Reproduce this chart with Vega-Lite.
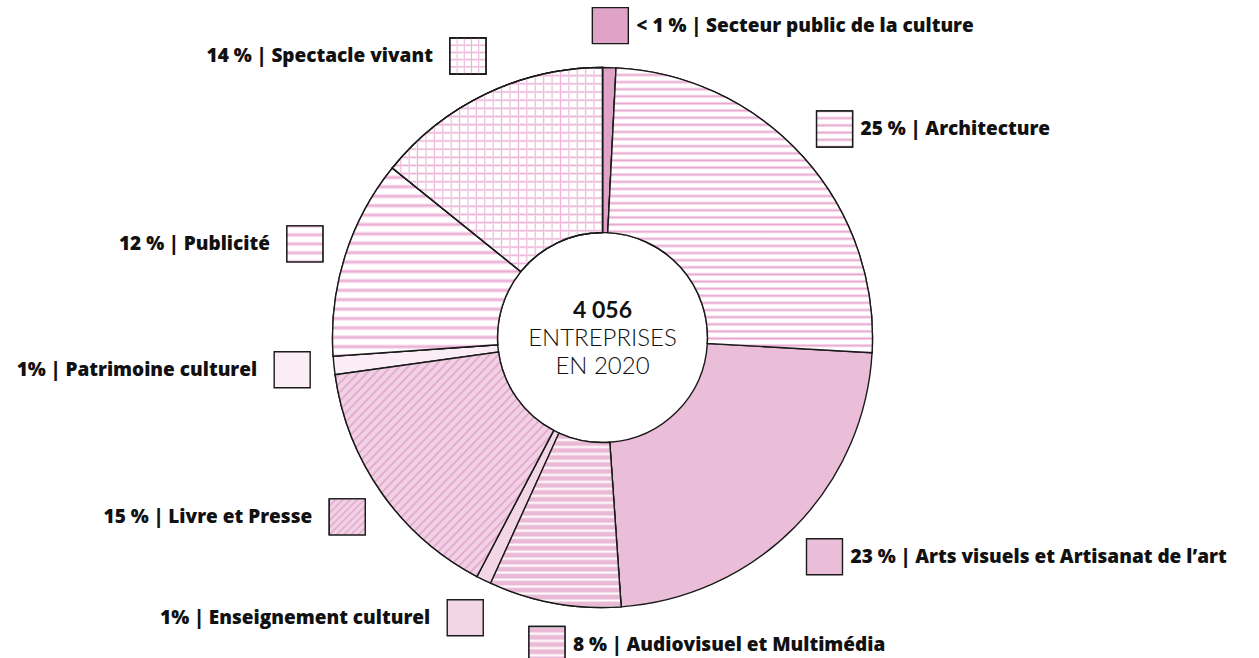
{
  "$schema": "https://vega.github.io/schema/vega-lite/v6.json",
  "autosize": "none",
  "width": 1205,
  "height": 640,
  "padding": {"left": 0, "top": 17.5, "right": 54, "bottom": 0.5},
  "background": "white",
  "config": {"view": {"stroke": null}},
  "data": {
    "values": [
      {"ord": 1, "secteur": "Secteur public de la culture", "value": 0.8, "label": "< 1 % | Secteur public de la culture"},
      {"ord": 2, "secteur": "Architecture", "value": 25.1, "label": "25 % | Architecture"},
      {"ord": 3, "secteur": "Arts visuels et Artisanat de l’art", "value": 23.0, "label": "23 % | Arts visuels et Artisanat de l’art"},
      {"ord": 4, "secteur": "Audiovisuel et Multimédia", "value": 7.9, "label": "8 % | Audiovisuel et Multimédia"},
      {"ord": 5, "secteur": "Enseignement culturel", "value": 0.9, "label": "1% | Enseignement culturel"},
      {"ord": 6, "secteur": "Livre et Presse", "value": 15.1, "label": "15 % | Livre et Presse"},
      {"ord": 7, "secteur": "Patrimoine culturel", "value": 1.1, "label": "1% | Patrimoine culturel"},
      {"ord": 8, "secteur": "Publicité", "value": 11.9, "label": "12 % | Publicité"},
      {"ord": 9, "secteur": "Spectacle vivant", "value": 14.2, "label": "14 % | Spectacle vivant"}
    ]
  },
  "transform": [
    {"stack": "value", "groupby": [], "sort": [{"field": "ord", "order": "ascending"}], "as": ["v0", "v1"]},
    {"calculate": "(datum.v0 + datum.v1) / 100 * PI", "as": "a"},
    {"calculate": "312 * sin(datum.a)", "as": "sx"},
    {"calculate": "312 * cos(datum.a)", "as": "sy"}
  ],
  "layer": [
    {
      "mark": {"type": "arc", "outerRadius": 270, "innerRadius": 105, "stroke": "#1a1a1a", "strokeWidth": 1.4},
      "encoding": {
        "theta": {"field": "v0", "type": "quantitative", "scale": {"domain": [0, 100]}},
        "theta2": {"field": "v1"},
        "color": {
          "field": "secteur", "type": "nominal", "legend": null,
          "scale": {
            "domain": ["Secteur public de la culture", "Architecture", "Arts visuels et Artisanat de l’art", "Audiovisuel et Multimédia", "Enseignement culturel", "Livre et Presse", "Patrimoine culturel", "Publicité", "Spectacle vivant"],
            "range": ["#E0A3C8", "#F6DDEB", "#EABDD9", "#ECC2DC", "#F2D6E6", "#EFCCE0", "#FAEDF5", "#F6DDEB", "#F4D6E8"]
          }
        }
      }
    },
    {
      "transform": [{"filter": "datum.ord == 2"}],
      "mark": {"type": "arc", "outerRadius": 270, "innerRadius": 105, "stroke": "#1a1a1a", "strokeWidth": 1.4,
        "fill": {"gradient": "linear", "x1": 0, "y1": 0, "x2": 0, "y2": 1, "stops": [{"offset":0,"color":"#E8A6CF"},{"offset":0.0075,"color":"#fff"},{"offset":0.0175,"color":"#fff"},{"offset":0.025,"color":"#E8A6CF"},{"offset":0.0325,"color":"#fff"},{"offset":0.0425,"color":"#fff"},{"offset":0.05,"color":"#E8A6CF"},{"offset":0.0575,"color":"#fff"},{"offset":0.0675,"color":"#fff"},{"offset":0.075,"color":"#E8A6CF"},{"offset":0.0825,"color":"#fff"},{"offset":0.0925,"color":"#fff"},{"offset":0.1,"color":"#E8A6CF"},{"offset":0.1075,"color":"#fff"},{"offset":0.1175,"color":"#fff"},{"offset":0.125,"color":"#E8A6CF"},{"offset":0.1325,"color":"#fff"},{"offset":0.1425,"color":"#fff"},{"offset":0.15,"color":"#E8A6CF"},{"offset":0.1575,"color":"#fff"},{"offset":0.1675,"color":"#fff"},{"offset":0.175,"color":"#E8A6CF"},{"offset":0.1825,"color":"#fff"},{"offset":0.1925,"color":"#fff"},{"offset":0.2,"color":"#E8A6CF"},{"offset":0.2075,"color":"#fff"},{"offset":0.2175,"color":"#fff"},{"offset":0.225,"color":"#E8A6CF"},{"offset":0.2325,"color":"#fff"},{"offset":0.2425,"color":"#fff"},{"offset":0.25,"color":"#E8A6CF"},{"offset":0.2575,"color":"#fff"},{"offset":0.2675,"color":"#fff"},{"offset":0.275,"color":"#E8A6CF"},{"offset":0.2825,"color":"#fff"},{"offset":0.2925,"color":"#fff"},{"offset":0.3,"color":"#E8A6CF"},{"offset":0.3075,"color":"#fff"},{"offset":0.3175,"color":"#fff"},{"offset":0.325,"color":"#E8A6CF"},{"offset":0.3325,"color":"#fff"},{"offset":0.3425,"color":"#fff"},{"offset":0.35,"color":"#E8A6CF"},{"offset":0.3575,"color":"#fff"},{"offset":0.3675,"color":"#fff"},{"offset":0.375,"color":"#E8A6CF"},{"offset":0.3825,"color":"#fff"},{"offset":0.3925,"color":"#fff"},{"offset":0.4,"color":"#E8A6CF"},{"offset":0.4075,"color":"#fff"},{"offset":0.4175,"color":"#fff"},{"offset":0.425,"color":"#E8A6CF"},{"offset":0.4325,"color":"#fff"},{"offset":0.4425,"color":"#fff"},{"offset":0.45,"color":"#E8A6CF"},{"offset":0.4575,"color":"#fff"},{"offset":0.4675,"color":"#fff"},{"offset":0.475,"color":"#E8A6CF"},{"offset":0.4825,"color":"#fff"},{"offset":0.4925,"color":"#fff"},{"offset":0.5,"color":"#E8A6CF"},{"offset":0.5075,"color":"#fff"},{"offset":0.5175,"color":"#fff"},{"offset":0.525,"color":"#E8A6CF"},{"offset":0.5325,"color":"#fff"},{"offset":0.5425,"color":"#fff"},{"offset":0.55,"color":"#E8A6CF"},{"offset":0.5575,"color":"#fff"},{"offset":0.5675,"color":"#fff"},{"offset":0.575,"color":"#E8A6CF"},{"offset":0.5825,"color":"#fff"},{"offset":0.5925,"color":"#fff"},{"offset":0.6,"color":"#E8A6CF"},{"offset":0.6075,"color":"#fff"},{"offset":0.6175,"color":"#fff"},{"offset":0.625,"color":"#E8A6CF"},{"offset":0.6325,"color":"#fff"},{"offset":0.6425,"color":"#fff"},{"offset":0.65,"color":"#E8A6CF"},{"offset":0.6575,"color":"#fff"},{"offset":0.6675,"color":"#fff"},{"offset":0.675,"color":"#E8A6CF"},{"offset":0.6825,"color":"#fff"},{"offset":0.6925,"color":"#fff"},{"offset":0.7,"color":"#E8A6CF"},{"offset":0.7075,"color":"#fff"},{"offset":0.7175,"color":"#fff"},{"offset":0.725,"color":"#E8A6CF"},{"offset":0.7325,"color":"#fff"},{"offset":0.7425,"color":"#fff"},{"offset":0.75,"color":"#E8A6CF"},{"offset":0.7575,"color":"#fff"},{"offset":0.7675,"color":"#fff"},{"offset":0.775,"color":"#E8A6CF"},{"offset":0.7825,"color":"#fff"},{"offset":0.7925,"color":"#fff"},{"offset":0.8,"color":"#E8A6CF"},{"offset":0.8075,"color":"#fff"},{"offset":0.8175,"color":"#fff"},{"offset":0.825,"color":"#E8A6CF"},{"offset":0.8325,"color":"#fff"},{"offset":0.8425,"color":"#fff"},{"offset":0.85,"color":"#E8A6CF"},{"offset":0.8575,"color":"#fff"},{"offset":0.8675,"color":"#fff"},{"offset":0.875,"color":"#E8A6CF"},{"offset":0.8825,"color":"#fff"},{"offset":0.8925,"color":"#fff"},{"offset":0.9,"color":"#E8A6CF"},{"offset":0.9075,"color":"#fff"},{"offset":0.9175,"color":"#fff"},{"offset":0.925,"color":"#E8A6CF"},{"offset":0.9325,"color":"#fff"},{"offset":0.9425,"color":"#fff"},{"offset":0.95,"color":"#E8A6CF"},{"offset":0.9575,"color":"#fff"},{"offset":0.9675,"color":"#fff"},{"offset":0.975,"color":"#E8A6CF"},{"offset":0.9825,"color":"#fff"},{"offset":0.9925,"color":"#fff"},{"offset":1,"color":"#E8A6CF"}]}},
      "encoding": {"theta": {"field": "v0", "type": "quantitative"}, "theta2": {"field": "v1"}}
    },
    {
      "transform": [{"filter": "datum.ord == 4"}],
      "mark": {"type": "arc", "outerRadius": 270, "innerRadius": 105, "stroke": "#1a1a1a", "strokeWidth": 1.4,
        "fill": {"gradient": "linear", "x1": 0, "y1": 0, "x2": 0, "y2": 1, "stops": [{"offset":0,"color":"#fff"},{"offset":0.012,"color":"#EAB9D6"},{"offset":0.028,"color":"#EAB9D6"},{"offset":0.04,"color":"#fff"},{"offset":0.052,"color":"#EAB9D6"},{"offset":0.068,"color":"#EAB9D6"},{"offset":0.08,"color":"#fff"},{"offset":0.092,"color":"#EAB9D6"},{"offset":0.108,"color":"#EAB9D6"},{"offset":0.12,"color":"#fff"},{"offset":0.132,"color":"#EAB9D6"},{"offset":0.148,"color":"#EAB9D6"},{"offset":0.16,"color":"#fff"},{"offset":0.172,"color":"#EAB9D6"},{"offset":0.188,"color":"#EAB9D6"},{"offset":0.2,"color":"#fff"},{"offset":0.212,"color":"#EAB9D6"},{"offset":0.228,"color":"#EAB9D6"},{"offset":0.24,"color":"#fff"},{"offset":0.252,"color":"#EAB9D6"},{"offset":0.268,"color":"#EAB9D6"},{"offset":0.28,"color":"#fff"},{"offset":0.292,"color":"#EAB9D6"},{"offset":0.308,"color":"#EAB9D6"},{"offset":0.32,"color":"#fff"},{"offset":0.332,"color":"#EAB9D6"},{"offset":0.348,"color":"#EAB9D6"},{"offset":0.36,"color":"#fff"},{"offset":0.372,"color":"#EAB9D6"},{"offset":0.388,"color":"#EAB9D6"},{"offset":0.4,"color":"#fff"},{"offset":0.412,"color":"#EAB9D6"},{"offset":0.428,"color":"#EAB9D6"},{"offset":0.44,"color":"#fff"},{"offset":0.452,"color":"#EAB9D6"},{"offset":0.468,"color":"#EAB9D6"},{"offset":0.48,"color":"#fff"},{"offset":0.492,"color":"#EAB9D6"},{"offset":0.508,"color":"#EAB9D6"},{"offset":0.52,"color":"#fff"},{"offset":0.532,"color":"#EAB9D6"},{"offset":0.548,"color":"#EAB9D6"},{"offset":0.56,"color":"#fff"},{"offset":0.572,"color":"#EAB9D6"},{"offset":0.588,"color":"#EAB9D6"},{"offset":0.6,"color":"#fff"},{"offset":0.612,"color":"#EAB9D6"},{"offset":0.628,"color":"#EAB9D6"},{"offset":0.64,"color":"#fff"},{"offset":0.652,"color":"#EAB9D6"},{"offset":0.668,"color":"#EAB9D6"},{"offset":0.68,"color":"#fff"},{"offset":0.692,"color":"#EAB9D6"},{"offset":0.708,"color":"#EAB9D6"},{"offset":0.72,"color":"#fff"},{"offset":0.732,"color":"#EAB9D6"},{"offset":0.748,"color":"#EAB9D6"},{"offset":0.76,"color":"#fff"},{"offset":0.772,"color":"#EAB9D6"},{"offset":0.788,"color":"#EAB9D6"},{"offset":0.8,"color":"#fff"},{"offset":0.812,"color":"#EAB9D6"},{"offset":0.828,"color":"#EAB9D6"},{"offset":0.84,"color":"#fff"},{"offset":0.852,"color":"#EAB9D6"},{"offset":0.868,"color":"#EAB9D6"},{"offset":0.88,"color":"#fff"},{"offset":0.892,"color":"#EAB9D6"},{"offset":0.908,"color":"#EAB9D6"},{"offset":0.92,"color":"#fff"},{"offset":0.932,"color":"#EAB9D6"},{"offset":0.948,"color":"#EAB9D6"},{"offset":0.96,"color":"#fff"},{"offset":0.972,"color":"#EAB9D6"},{"offset":0.988,"color":"#EAB9D6"},{"offset":1,"color":"#fff"}]}},
      "encoding": {"theta": {"field": "v0", "type": "quantitative"}, "theta2": {"field": "v1"}}
    },
    {
      "transform": [{"filter": "datum.ord == 6"}],
      "mark": {"type": "arc", "outerRadius": 270, "innerRadius": 105, "stroke": "#1a1a1a", "strokeWidth": 1.4,
        "fill": {"gradient": "linear", "x1": 0, "y1": 0, "x2": 1, "y2": 1, "stops": [{"offset":0,"color":"#E3A2CB"},{"offset":0.005,"color":"#F1D2E4"},{"offset":0.015,"color":"#F1D2E4"},{"offset":0.02,"color":"#E3A2CB"},{"offset":0.025,"color":"#F1D2E4"},{"offset":0.035,"color":"#F1D2E4"},{"offset":0.04,"color":"#E3A2CB"},{"offset":0.045,"color":"#F1D2E4"},{"offset":0.055,"color":"#F1D2E4"},{"offset":0.06,"color":"#E3A2CB"},{"offset":0.065,"color":"#F1D2E4"},{"offset":0.075,"color":"#F1D2E4"},{"offset":0.08,"color":"#E3A2CB"},{"offset":0.085,"color":"#F1D2E4"},{"offset":0.095,"color":"#F1D2E4"},{"offset":0.1,"color":"#E3A2CB"},{"offset":0.105,"color":"#F1D2E4"},{"offset":0.115,"color":"#F1D2E4"},{"offset":0.12,"color":"#E3A2CB"},{"offset":0.125,"color":"#F1D2E4"},{"offset":0.135,"color":"#F1D2E4"},{"offset":0.14,"color":"#E3A2CB"},{"offset":0.145,"color":"#F1D2E4"},{"offset":0.155,"color":"#F1D2E4"},{"offset":0.16,"color":"#E3A2CB"},{"offset":0.165,"color":"#F1D2E4"},{"offset":0.175,"color":"#F1D2E4"},{"offset":0.18,"color":"#E3A2CB"},{"offset":0.185,"color":"#F1D2E4"},{"offset":0.195,"color":"#F1D2E4"},{"offset":0.2,"color":"#E3A2CB"},{"offset":0.205,"color":"#F1D2E4"},{"offset":0.215,"color":"#F1D2E4"},{"offset":0.22,"color":"#E3A2CB"},{"offset":0.225,"color":"#F1D2E4"},{"offset":0.235,"color":"#F1D2E4"},{"offset":0.24,"color":"#E3A2CB"},{"offset":0.245,"color":"#F1D2E4"},{"offset":0.255,"color":"#F1D2E4"},{"offset":0.26,"color":"#E3A2CB"},{"offset":0.265,"color":"#F1D2E4"},{"offset":0.275,"color":"#F1D2E4"},{"offset":0.28,"color":"#E3A2CB"},{"offset":0.285,"color":"#F1D2E4"},{"offset":0.295,"color":"#F1D2E4"},{"offset":0.3,"color":"#E3A2CB"},{"offset":0.305,"color":"#F1D2E4"},{"offset":0.315,"color":"#F1D2E4"},{"offset":0.32,"color":"#E3A2CB"},{"offset":0.325,"color":"#F1D2E4"},{"offset":0.335,"color":"#F1D2E4"},{"offset":0.34,"color":"#E3A2CB"},{"offset":0.345,"color":"#F1D2E4"},{"offset":0.355,"color":"#F1D2E4"},{"offset":0.36,"color":"#E3A2CB"},{"offset":0.365,"color":"#F1D2E4"},{"offset":0.375,"color":"#F1D2E4"},{"offset":0.38,"color":"#E3A2CB"},{"offset":0.385,"color":"#F1D2E4"},{"offset":0.395,"color":"#F1D2E4"},{"offset":0.4,"color":"#E3A2CB"},{"offset":0.405,"color":"#F1D2E4"},{"offset":0.415,"color":"#F1D2E4"},{"offset":0.42,"color":"#E3A2CB"},{"offset":0.425,"color":"#F1D2E4"},{"offset":0.435,"color":"#F1D2E4"},{"offset":0.44,"color":"#E3A2CB"},{"offset":0.445,"color":"#F1D2E4"},{"offset":0.455,"color":"#F1D2E4"},{"offset":0.46,"color":"#E3A2CB"},{"offset":0.465,"color":"#F1D2E4"},{"offset":0.475,"color":"#F1D2E4"},{"offset":0.48,"color":"#E3A2CB"},{"offset":0.485,"color":"#F1D2E4"},{"offset":0.495,"color":"#F1D2E4"},{"offset":0.5,"color":"#E3A2CB"},{"offset":0.505,"color":"#F1D2E4"},{"offset":0.515,"color":"#F1D2E4"},{"offset":0.52,"color":"#E3A2CB"},{"offset":0.525,"color":"#F1D2E4"},{"offset":0.535,"color":"#F1D2E4"},{"offset":0.54,"color":"#E3A2CB"},{"offset":0.545,"color":"#F1D2E4"},{"offset":0.555,"color":"#F1D2E4"},{"offset":0.56,"color":"#E3A2CB"},{"offset":0.565,"color":"#F1D2E4"},{"offset":0.575,"color":"#F1D2E4"},{"offset":0.58,"color":"#E3A2CB"},{"offset":0.585,"color":"#F1D2E4"},{"offset":0.595,"color":"#F1D2E4"},{"offset":0.6,"color":"#E3A2CB"},{"offset":0.605,"color":"#F1D2E4"},{"offset":0.615,"color":"#F1D2E4"},{"offset":0.62,"color":"#E3A2CB"},{"offset":0.625,"color":"#F1D2E4"},{"offset":0.635,"color":"#F1D2E4"},{"offset":0.64,"color":"#E3A2CB"},{"offset":0.645,"color":"#F1D2E4"},{"offset":0.655,"color":"#F1D2E4"},{"offset":0.66,"color":"#E3A2CB"},{"offset":0.665,"color":"#F1D2E4"},{"offset":0.675,"color":"#F1D2E4"},{"offset":0.68,"color":"#E3A2CB"},{"offset":0.685,"color":"#F1D2E4"},{"offset":0.695,"color":"#F1D2E4"},{"offset":0.7,"color":"#E3A2CB"},{"offset":0.705,"color":"#F1D2E4"},{"offset":0.715,"color":"#F1D2E4"},{"offset":0.72,"color":"#E3A2CB"},{"offset":0.725,"color":"#F1D2E4"},{"offset":0.735,"color":"#F1D2E4"},{"offset":0.74,"color":"#E3A2CB"},{"offset":0.745,"color":"#F1D2E4"},{"offset":0.755,"color":"#F1D2E4"},{"offset":0.76,"color":"#E3A2CB"},{"offset":0.765,"color":"#F1D2E4"},{"offset":0.775,"color":"#F1D2E4"},{"offset":0.78,"color":"#E3A2CB"},{"offset":0.785,"color":"#F1D2E4"},{"offset":0.795,"color":"#F1D2E4"},{"offset":0.8,"color":"#E3A2CB"},{"offset":0.805,"color":"#F1D2E4"},{"offset":0.815,"color":"#F1D2E4"},{"offset":0.82,"color":"#E3A2CB"},{"offset":0.825,"color":"#F1D2E4"},{"offset":0.835,"color":"#F1D2E4"},{"offset":0.84,"color":"#E3A2CB"},{"offset":0.845,"color":"#F1D2E4"},{"offset":0.855,"color":"#F1D2E4"},{"offset":0.86,"color":"#E3A2CB"},{"offset":0.865,"color":"#F1D2E4"},{"offset":0.875,"color":"#F1D2E4"},{"offset":0.88,"color":"#E3A2CB"},{"offset":0.885,"color":"#F1D2E4"},{"offset":0.895,"color":"#F1D2E4"},{"offset":0.9,"color":"#E3A2CB"},{"offset":0.905,"color":"#F1D2E4"},{"offset":0.915,"color":"#F1D2E4"},{"offset":0.92,"color":"#E3A2CB"},{"offset":0.925,"color":"#F1D2E4"},{"offset":0.935,"color":"#F1D2E4"},{"offset":0.94,"color":"#E3A2CB"},{"offset":0.945,"color":"#F1D2E4"},{"offset":0.955,"color":"#F1D2E4"},{"offset":0.96,"color":"#E3A2CB"},{"offset":0.965,"color":"#F1D2E4"},{"offset":0.975,"color":"#F1D2E4"},{"offset":0.98,"color":"#E3A2CB"},{"offset":0.985,"color":"#F1D2E4"},{"offset":0.995,"color":"#F1D2E4"},{"offset":1,"color":"#E3A2CB"}]}},
      "encoding": {"theta": {"field": "v0", "type": "quantitative"}, "theta2": {"field": "v1"}}
    },
    {
      "transform": [{"filter": "datum.ord == 8"}],
      "mark": {"type": "arc", "outerRadius": 270, "innerRadius": 105, "stroke": "#1a1a1a", "strokeWidth": 1.4,
        "fill": {"gradient": "linear", "x1": 0, "y1": 0, "x2": 0, "y2": 1, "stops": [{"offset":0,"color":"#EAAAD2"},{"offset":0.015,"color":"#fff"},{"offset":0.035,"color":"#fff"},{"offset":0.05,"color":"#EAAAD2"},{"offset":0.065,"color":"#fff"},{"offset":0.085,"color":"#fff"},{"offset":0.1,"color":"#EAAAD2"},{"offset":0.115,"color":"#fff"},{"offset":0.135,"color":"#fff"},{"offset":0.15,"color":"#EAAAD2"},{"offset":0.165,"color":"#fff"},{"offset":0.185,"color":"#fff"},{"offset":0.2,"color":"#EAAAD2"},{"offset":0.215,"color":"#fff"},{"offset":0.235,"color":"#fff"},{"offset":0.25,"color":"#EAAAD2"},{"offset":0.265,"color":"#fff"},{"offset":0.285,"color":"#fff"},{"offset":0.3,"color":"#EAAAD2"},{"offset":0.315,"color":"#fff"},{"offset":0.335,"color":"#fff"},{"offset":0.35,"color":"#EAAAD2"},{"offset":0.365,"color":"#fff"},{"offset":0.385,"color":"#fff"},{"offset":0.4,"color":"#EAAAD2"},{"offset":0.415,"color":"#fff"},{"offset":0.435,"color":"#fff"},{"offset":0.45,"color":"#EAAAD2"},{"offset":0.465,"color":"#fff"},{"offset":0.485,"color":"#fff"},{"offset":0.5,"color":"#EAAAD2"},{"offset":0.515,"color":"#fff"},{"offset":0.535,"color":"#fff"},{"offset":0.55,"color":"#EAAAD2"},{"offset":0.565,"color":"#fff"},{"offset":0.585,"color":"#fff"},{"offset":0.6,"color":"#EAAAD2"},{"offset":0.615,"color":"#fff"},{"offset":0.635,"color":"#fff"},{"offset":0.65,"color":"#EAAAD2"},{"offset":0.665,"color":"#fff"},{"offset":0.685,"color":"#fff"},{"offset":0.7,"color":"#EAAAD2"},{"offset":0.715,"color":"#fff"},{"offset":0.735,"color":"#fff"},{"offset":0.75,"color":"#EAAAD2"},{"offset":0.765,"color":"#fff"},{"offset":0.785,"color":"#fff"},{"offset":0.8,"color":"#EAAAD2"},{"offset":0.815,"color":"#fff"},{"offset":0.835,"color":"#fff"},{"offset":0.85,"color":"#EAAAD2"},{"offset":0.865,"color":"#fff"},{"offset":0.885,"color":"#fff"},{"offset":0.9,"color":"#EAAAD2"},{"offset":0.915,"color":"#fff"},{"offset":0.935,"color":"#fff"},{"offset":0.95,"color":"#EAAAD2"},{"offset":0.965,"color":"#fff"},{"offset":0.985,"color":"#fff"},{"offset":1,"color":"#EAAAD2"}]}},
      "encoding": {"theta": {"field": "v0", "type": "quantitative"}, "theta2": {"field": "v1"}}
    },
    {
      "transform": [{"filter": "datum.ord == 9"}],
      "mark": {"type": "arc", "outerRadius": 270, "innerRadius": 105, "stroke": "#1a1a1a", "strokeWidth": 1.4,
        "fill": {"gradient": "linear", "x1": 0, "y1": 0, "x2": 0, "y2": 1, "stops": [{"offset":0,"color":"#EBB0D5"},{"offset":0.008,"color":"#fff"},{"offset":0.032,"color":"#fff"},{"offset":0.04,"color":"#EBB0D5"},{"offset":0.048,"color":"#fff"},{"offset":0.072,"color":"#fff"},{"offset":0.08,"color":"#EBB0D5"},{"offset":0.088,"color":"#fff"},{"offset":0.112,"color":"#fff"},{"offset":0.12,"color":"#EBB0D5"},{"offset":0.128,"color":"#fff"},{"offset":0.152,"color":"#fff"},{"offset":0.16,"color":"#EBB0D5"},{"offset":0.168,"color":"#fff"},{"offset":0.192,"color":"#fff"},{"offset":0.2,"color":"#EBB0D5"},{"offset":0.208,"color":"#fff"},{"offset":0.232,"color":"#fff"},{"offset":0.24,"color":"#EBB0D5"},{"offset":0.248,"color":"#fff"},{"offset":0.272,"color":"#fff"},{"offset":0.28,"color":"#EBB0D5"},{"offset":0.288,"color":"#fff"},{"offset":0.312,"color":"#fff"},{"offset":0.32,"color":"#EBB0D5"},{"offset":0.328,"color":"#fff"},{"offset":0.352,"color":"#fff"},{"offset":0.36,"color":"#EBB0D5"},{"offset":0.368,"color":"#fff"},{"offset":0.392,"color":"#fff"},{"offset":0.4,"color":"#EBB0D5"},{"offset":0.408,"color":"#fff"},{"offset":0.432,"color":"#fff"},{"offset":0.44,"color":"#EBB0D5"},{"offset":0.448,"color":"#fff"},{"offset":0.472,"color":"#fff"},{"offset":0.48,"color":"#EBB0D5"},{"offset":0.488,"color":"#fff"},{"offset":0.512,"color":"#fff"},{"offset":0.52,"color":"#EBB0D5"},{"offset":0.528,"color":"#fff"},{"offset":0.552,"color":"#fff"},{"offset":0.56,"color":"#EBB0D5"},{"offset":0.568,"color":"#fff"},{"offset":0.592,"color":"#fff"},{"offset":0.6,"color":"#EBB0D5"},{"offset":0.608,"color":"#fff"},{"offset":0.632,"color":"#fff"},{"offset":0.64,"color":"#EBB0D5"},{"offset":0.648,"color":"#fff"},{"offset":0.672,"color":"#fff"},{"offset":0.68,"color":"#EBB0D5"},{"offset":0.688,"color":"#fff"},{"offset":0.712,"color":"#fff"},{"offset":0.72,"color":"#EBB0D5"},{"offset":0.728,"color":"#fff"},{"offset":0.752,"color":"#fff"},{"offset":0.76,"color":"#EBB0D5"},{"offset":0.768,"color":"#fff"},{"offset":0.792,"color":"#fff"},{"offset":0.8,"color":"#EBB0D5"},{"offset":0.808,"color":"#fff"},{"offset":0.832,"color":"#fff"},{"offset":0.84,"color":"#EBB0D5"},{"offset":0.848,"color":"#fff"},{"offset":0.872,"color":"#fff"},{"offset":0.88,"color":"#EBB0D5"},{"offset":0.888,"color":"#fff"},{"offset":0.912,"color":"#fff"},{"offset":0.92,"color":"#EBB0D5"},{"offset":0.928,"color":"#fff"},{"offset":0.952,"color":"#fff"},{"offset":0.96,"color":"#EBB0D5"},{"offset":0.968,"color":"#fff"},{"offset":0.992,"color":"#fff"},{"offset":1,"color":"#EBB0D5"}]}},
      "encoding": {"theta": {"field": "v0", "type": "quantitative"}, "theta2": {"field": "v1"}}
    },
    {
      "transform": [{"filter": "datum.ord == 9"}],
      "mark": {"type": "arc", "outerRadius": 270, "innerRadius": 105, "stroke": "#1a1a1a", "strokeWidth": 1.4,
        "fill": {"gradient": "linear", "x1": 0, "y1": 0, "x2": 1, "y2": 0, "stops": [{"offset":0,"color":"#EBB0D5"},{"offset":0.008,"color":"rgba(255,255,255,0)"},{"offset":0.032,"color":"rgba(255,255,255,0)"},{"offset":0.04,"color":"#EBB0D5"},{"offset":0.048,"color":"rgba(255,255,255,0)"},{"offset":0.072,"color":"rgba(255,255,255,0)"},{"offset":0.08,"color":"#EBB0D5"},{"offset":0.088,"color":"rgba(255,255,255,0)"},{"offset":0.112,"color":"rgba(255,255,255,0)"},{"offset":0.12,"color":"#EBB0D5"},{"offset":0.128,"color":"rgba(255,255,255,0)"},{"offset":0.152,"color":"rgba(255,255,255,0)"},{"offset":0.16,"color":"#EBB0D5"},{"offset":0.168,"color":"rgba(255,255,255,0)"},{"offset":0.192,"color":"rgba(255,255,255,0)"},{"offset":0.2,"color":"#EBB0D5"},{"offset":0.208,"color":"rgba(255,255,255,0)"},{"offset":0.232,"color":"rgba(255,255,255,0)"},{"offset":0.24,"color":"#EBB0D5"},{"offset":0.248,"color":"rgba(255,255,255,0)"},{"offset":0.272,"color":"rgba(255,255,255,0)"},{"offset":0.28,"color":"#EBB0D5"},{"offset":0.288,"color":"rgba(255,255,255,0)"},{"offset":0.312,"color":"rgba(255,255,255,0)"},{"offset":0.32,"color":"#EBB0D5"},{"offset":0.328,"color":"rgba(255,255,255,0)"},{"offset":0.352,"color":"rgba(255,255,255,0)"},{"offset":0.36,"color":"#EBB0D5"},{"offset":0.368,"color":"rgba(255,255,255,0)"},{"offset":0.392,"color":"rgba(255,255,255,0)"},{"offset":0.4,"color":"#EBB0D5"},{"offset":0.408,"color":"rgba(255,255,255,0)"},{"offset":0.432,"color":"rgba(255,255,255,0)"},{"offset":0.44,"color":"#EBB0D5"},{"offset":0.448,"color":"rgba(255,255,255,0)"},{"offset":0.472,"color":"rgba(255,255,255,0)"},{"offset":0.48,"color":"#EBB0D5"},{"offset":0.488,"color":"rgba(255,255,255,0)"},{"offset":0.512,"color":"rgba(255,255,255,0)"},{"offset":0.52,"color":"#EBB0D5"},{"offset":0.528,"color":"rgba(255,255,255,0)"},{"offset":0.552,"color":"rgba(255,255,255,0)"},{"offset":0.56,"color":"#EBB0D5"},{"offset":0.568,"color":"rgba(255,255,255,0)"},{"offset":0.592,"color":"rgba(255,255,255,0)"},{"offset":0.6,"color":"#EBB0D5"},{"offset":0.608,"color":"rgba(255,255,255,0)"},{"offset":0.632,"color":"rgba(255,255,255,0)"},{"offset":0.64,"color":"#EBB0D5"},{"offset":0.648,"color":"rgba(255,255,255,0)"},{"offset":0.672,"color":"rgba(255,255,255,0)"},{"offset":0.68,"color":"#EBB0D5"},{"offset":0.688,"color":"rgba(255,255,255,0)"},{"offset":0.712,"color":"rgba(255,255,255,0)"},{"offset":0.72,"color":"#EBB0D5"},{"offset":0.728,"color":"rgba(255,255,255,0)"},{"offset":0.752,"color":"rgba(255,255,255,0)"},{"offset":0.76,"color":"#EBB0D5"},{"offset":0.768,"color":"rgba(255,255,255,0)"},{"offset":0.792,"color":"rgba(255,255,255,0)"},{"offset":0.8,"color":"#EBB0D5"},{"offset":0.808,"color":"rgba(255,255,255,0)"},{"offset":0.832,"color":"rgba(255,255,255,0)"},{"offset":0.84,"color":"#EBB0D5"},{"offset":0.848,"color":"rgba(255,255,255,0)"},{"offset":0.872,"color":"rgba(255,255,255,0)"},{"offset":0.88,"color":"#EBB0D5"},{"offset":0.888,"color":"rgba(255,255,255,0)"},{"offset":0.912,"color":"rgba(255,255,255,0)"},{"offset":0.92,"color":"#EBB0D5"},{"offset":0.928,"color":"rgba(255,255,255,0)"},{"offset":0.952,"color":"rgba(255,255,255,0)"},{"offset":0.96,"color":"#EBB0D5"},{"offset":0.968,"color":"rgba(255,255,255,0)"},{"offset":0.992,"color":"rgba(255,255,255,0)"},{"offset":1,"color":"#EBB0D5"}]}},
      "encoding": {"theta": {"field": "v0", "type": "quantitative"}, "theta2": {"field": "v1"}}
    },
    {
      "mark": {"type": "square", "size": 1296, "stroke": "#1a1a1a", "strokeWidth": 1.4, "opacity": 1},
      "encoding": {
        "x": {"field": "sx", "type": "quantitative", "axis": null, "scale": {"domain": [-602.5, 602.5], "nice": false, "zero": false}},
        "y": {"field": "sy", "type": "quantitative", "axis": null, "scale": {"domain": [-320, 320], "nice": false, "zero": false}},
        "color": {"field": "secteur", "type": "nominal", "legend": null}
      }
    },
    {
      "transform": [{"filter": "datum.ord == 2"}],
      "mark": {"type": "square", "size": 1296, "stroke": "#1a1a1a", "strokeWidth": 1.4, "opacity": 1,
        "fill": {"gradient": "linear", "x1": 0, "y1": 0, "x2": 0, "y2": 1, "stops": [{"offset":0,"color":"#E8A6CF"},{"offset":0.06,"color":"#fff"},{"offset":0.14,"color":"#fff"},{"offset":0.2,"color":"#E8A6CF"},{"offset":0.26,"color":"#fff"},{"offset":0.34,"color":"#fff"},{"offset":0.4,"color":"#E8A6CF"},{"offset":0.46,"color":"#fff"},{"offset":0.54,"color":"#fff"},{"offset":0.6,"color":"#E8A6CF"},{"offset":0.66,"color":"#fff"},{"offset":0.74,"color":"#fff"},{"offset":0.8,"color":"#E8A6CF"},{"offset":0.86,"color":"#fff"},{"offset":0.94,"color":"#fff"},{"offset":1,"color":"#E8A6CF"}]}},
      "encoding": {"x": {"field": "sx", "type": "quantitative"}, "y": {"field": "sy", "type": "quantitative"}}
    },
    {
      "transform": [{"filter": "datum.ord == 4"}],
      "mark": {"type": "square", "size": 1296, "stroke": "#1a1a1a", "strokeWidth": 1.4, "opacity": 1,
        "fill": {"gradient": "linear", "x1": 0, "y1": 0, "x2": 0, "y2": 1, "stops": [{"offset":0,"color":"#fff"},{"offset":0.06,"color":"#EAB9D6"},{"offset":0.14,"color":"#EAB9D6"},{"offset":0.2,"color":"#fff"},{"offset":0.26,"color":"#EAB9D6"},{"offset":0.34,"color":"#EAB9D6"},{"offset":0.4,"color":"#fff"},{"offset":0.46,"color":"#EAB9D6"},{"offset":0.54,"color":"#EAB9D6"},{"offset":0.6,"color":"#fff"},{"offset":0.66,"color":"#EAB9D6"},{"offset":0.74,"color":"#EAB9D6"},{"offset":0.8,"color":"#fff"},{"offset":0.86,"color":"#EAB9D6"},{"offset":0.94,"color":"#EAB9D6"},{"offset":1,"color":"#fff"}]}},
      "encoding": {"x": {"field": "sx", "type": "quantitative"}, "y": {"field": "sy", "type": "quantitative"}}
    },
    {
      "transform": [{"filter": "datum.ord == 6"}],
      "mark": {"type": "square", "size": 1296, "stroke": "#1a1a1a", "strokeWidth": 1.4, "opacity": 1,
        "fill": {"gradient": "linear", "x1": 0, "y1": 0, "x2": 1, "y2": 1, "stops": [{"offset":0,"color":"#E3A2CB"},{"offset":0.025,"color":"#F1D2E4"},{"offset":0.075,"color":"#F1D2E4"},{"offset":0.1,"color":"#E3A2CB"},{"offset":0.125,"color":"#F1D2E4"},{"offset":0.175,"color":"#F1D2E4"},{"offset":0.2,"color":"#E3A2CB"},{"offset":0.225,"color":"#F1D2E4"},{"offset":0.275,"color":"#F1D2E4"},{"offset":0.3,"color":"#E3A2CB"},{"offset":0.325,"color":"#F1D2E4"},{"offset":0.375,"color":"#F1D2E4"},{"offset":0.4,"color":"#E3A2CB"},{"offset":0.425,"color":"#F1D2E4"},{"offset":0.475,"color":"#F1D2E4"},{"offset":0.5,"color":"#E3A2CB"},{"offset":0.525,"color":"#F1D2E4"},{"offset":0.575,"color":"#F1D2E4"},{"offset":0.6,"color":"#E3A2CB"},{"offset":0.625,"color":"#F1D2E4"},{"offset":0.675,"color":"#F1D2E4"},{"offset":0.7,"color":"#E3A2CB"},{"offset":0.725,"color":"#F1D2E4"},{"offset":0.775,"color":"#F1D2E4"},{"offset":0.8,"color":"#E3A2CB"},{"offset":0.825,"color":"#F1D2E4"},{"offset":0.875,"color":"#F1D2E4"},{"offset":0.9,"color":"#E3A2CB"},{"offset":0.925,"color":"#F1D2E4"},{"offset":0.975,"color":"#F1D2E4"},{"offset":1,"color":"#E3A2CB"}]}},
      "encoding": {"x": {"field": "sx", "type": "quantitative"}, "y": {"field": "sy", "type": "quantitative"}}
    },
    {
      "transform": [{"filter": "datum.ord == 8"}],
      "mark": {"type": "square", "size": 1296, "stroke": "#1a1a1a", "strokeWidth": 1.4, "opacity": 1,
        "fill": {"gradient": "linear", "x1": 0, "y1": 0, "x2": 0, "y2": 1, "stops": [{"offset":0,"color":"#EAAAD2"},{"offset":0.075,"color":"#fff"},{"offset":0.175,"color":"#fff"},{"offset":0.25,"color":"#EAAAD2"},{"offset":0.325,"color":"#fff"},{"offset":0.425,"color":"#fff"},{"offset":0.5,"color":"#EAAAD2"},{"offset":0.575,"color":"#fff"},{"offset":0.675,"color":"#fff"},{"offset":0.75,"color":"#EAAAD2"},{"offset":0.825,"color":"#fff"},{"offset":0.925,"color":"#fff"},{"offset":1,"color":"#EAAAD2"}]}},
      "encoding": {"x": {"field": "sx", "type": "quantitative"}, "y": {"field": "sy", "type": "quantitative"}}
    },
    {
      "transform": [{"filter": "datum.ord == 9"}],
      "mark": {"type": "square", "size": 1296, "stroke": "#1a1a1a", "strokeWidth": 1.4, "opacity": 1,
        "fill": {"gradient": "linear", "x1": 0, "y1": 0, "x2": 0, "y2": 1, "stops": [{"offset":0,"color":"#EBB0D5"},{"offset":0.04,"color":"#fff"},{"offset":0.16,"color":"#fff"},{"offset":0.2,"color":"#EBB0D5"},{"offset":0.24,"color":"#fff"},{"offset":0.36,"color":"#fff"},{"offset":0.4,"color":"#EBB0D5"},{"offset":0.44,"color":"#fff"},{"offset":0.56,"color":"#fff"},{"offset":0.6,"color":"#EBB0D5"},{"offset":0.64,"color":"#fff"},{"offset":0.76,"color":"#fff"},{"offset":0.8,"color":"#EBB0D5"},{"offset":0.84,"color":"#fff"},{"offset":0.96,"color":"#fff"},{"offset":1,"color":"#EBB0D5"}]}},
      "encoding": {"x": {"field": "sx", "type": "quantitative"}, "y": {"field": "sy", "type": "quantitative"}}
    },
    {
      "transform": [{"filter": "datum.ord == 9"}],
      "mark": {"type": "square", "size": 1296, "stroke": "#1a1a1a", "strokeWidth": 1.4, "opacity": 1,
        "fill": {"gradient": "linear", "x1": 0, "y1": 0, "x2": 1, "y2": 0, "stops": [{"offset":0,"color":"#EBB0D5"},{"offset":0.04,"color":"rgba(255,255,255,0)"},{"offset":0.16,"color":"rgba(255,255,255,0)"},{"offset":0.2,"color":"#EBB0D5"},{"offset":0.24,"color":"rgba(255,255,255,0)"},{"offset":0.36,"color":"rgba(255,255,255,0)"},{"offset":0.4,"color":"#EBB0D5"},{"offset":0.44,"color":"rgba(255,255,255,0)"},{"offset":0.56,"color":"rgba(255,255,255,0)"},{"offset":0.6,"color":"#EBB0D5"},{"offset":0.64,"color":"rgba(255,255,255,0)"},{"offset":0.76,"color":"rgba(255,255,255,0)"},{"offset":0.8,"color":"#EBB0D5"},{"offset":0.84,"color":"rgba(255,255,255,0)"},{"offset":0.96,"color":"rgba(255,255,255,0)"},{"offset":1,"color":"#EBB0D5"}]}},
      "encoding": {"x": {"field": "sx", "type": "quantitative"}, "y": {"field": "sy", "type": "quantitative"}}
    },
    {
      "transform": [{"filter": "datum.ord <= 4"}],
      "mark": {"type": "text", "align": "left", "baseline": "middle", "dx": 26, "font": "Open Sans", "fontWeight": 800, "fontSize": 19, "fill": "#111111"},
      "encoding": {
        "x": {"field": "sx", "type": "quantitative"},
        "y": {"field": "sy", "type": "quantitative"},
        "text": {"field": "label"}
      }
    },
    {
      "transform": [{"filter": "datum.ord > 4"}],
      "mark": {"type": "text", "align": "right", "baseline": "middle", "dx": -35, "font": "Open Sans", "fontWeight": 800, "fontSize": 19, "fill": "#111111"},
      "encoding": {
        "x": {"field": "sx", "type": "quantitative"},
        "y": {"field": "sy", "type": "quantitative"},
        "text": {"field": "label"}
      }
    },
    {
      "data": {"values": [{"t": "4 056"}]},
      "transform": [],
      "mark": {"type": "text", "align": "center", "baseline": "middle", "dy": -26.5, "font": "Lato", "fontWeight": "bold", "fontSize": 23, "fill": "#111111"},
      "encoding": {
        "x": {"datum": 0, "type": "quantitative"},
        "y": {"datum": 0, "type": "quantitative"},
        "text": {"field": "t"}
      }
    },
    {
      "data": {"values": [{"t": "ENTREPRISES"}, {"t": "EN 2020"}]},
      "transform": [{"window": [{"op": "row_number", "as": "r"}]}],
      "mark": {"type": "text", "align": "center", "baseline": "middle", "font": "Lato", "fontWeight": 300, "fontSize": 24, "fill": "#111111"},
      "encoding": {
        "x": {"datum": 0, "type": "quantitative"},
        "y": {"datum": 0, "type": "quantitative"},
        "yOffset": {"field": "r", "type": "quantitative", "scale": {"domain": [1, 2], "range": [1.5, 29.5]}},
        "text": {"field": "t"}
      }
    }
  ]
}
